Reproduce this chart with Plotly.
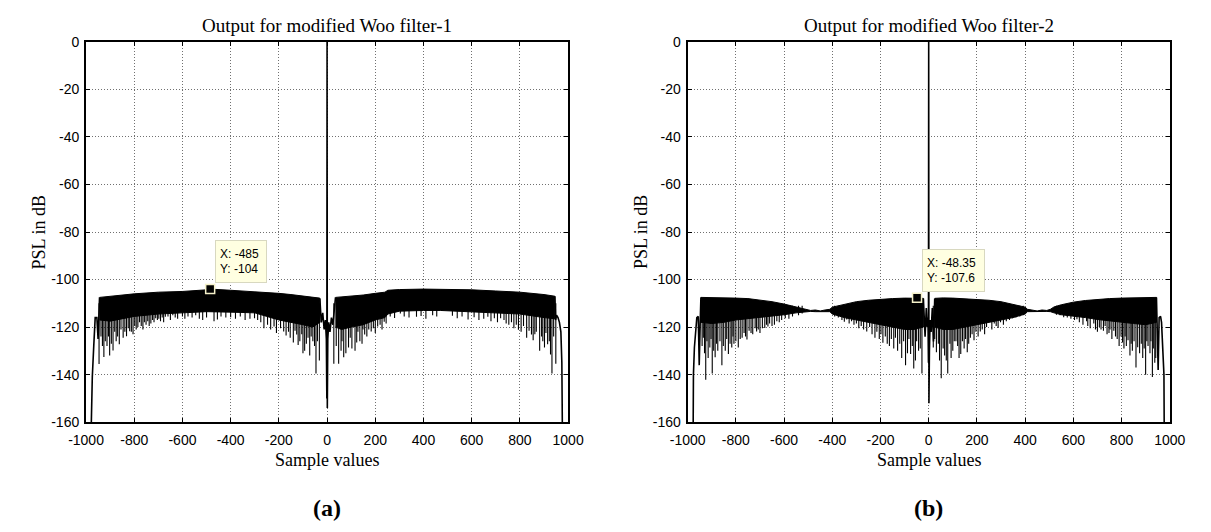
import plotly.graph_objects as go

# ---------------- data: panel (a) modified Woo filter-1 ----------------
A_BAND_L_X = [-944, -900, -850, -800, -700, -600, -500, -485, -400, -300, -250, -200, -150, -100, -60, -30]
A_BAND_L_HI = [-107.5, -107.0, -106.5, -106.0, -105.3, -105.0, -104.3, -104.0, -104.5, -105.0, -105.3, -105.8, -106.3, -106.8, -107.3, -107.8]
A_BAND_L_LO = [-117.0, -117.5, -116.5, -115.5, -114.5, -114.0, -113.5, -113.5, -113.7, -114.0, -115.5, -117.0, -118.0, -119.0, -120.0, -118.0]

A_BAND_R_X = [35, 60, 100, 150, 200, 240, 252, 300, 400, 470, 500, 600, 700, 800, 900, 945]
A_BAND_R_HI = [-107.5, -107.3, -107.0, -106.5, -105.8, -105.3, -104.5, -104.2, -104.0, -104.0, -104.0, -104.3, -104.8, -105.3, -106.3, -107.0]
A_BAND_R_LO = [-120.0, -121.0, -120.0, -119.0, -117.0, -116.0, -114.5, -113.3, -113.0, -113.0, -113.2, -113.5, -114.0, -114.5, -116.0, -116.5]

# (sample, dB) minima of the dense sidelobe spikes
A_SPIKES = [
    (-946, -135.5), (-938, -124), (-932, -128), (-926, -132.6), (-920, -126), (-913, -128), (-907, -124),
    (-902, -132), (-895, -127), (-888, -129.8), (-881, -122), (-875, -126), (-869, -124), (-862, -127.2),
    (-855, -121), (-846, -124.5), (-839, -122), (-832, -123.8), (-825, -120.5), (-819, -121.7), (-812, -122),
    (-805, -123), (-798, -119.5), (-792, -121), (-785, -120), (-778, -118), (-771, -119.5), (-764, -121),
    (-758, -118), (-751, -119), (-744, -117.5), (-738, -119.5), (-731, -118.5), (-724, -117), (-718, -118),
    (-711, -116.3), (-704, -117), (-698, -116.5), (-691, -117.5), (-684, -116), (-678, -118), (-671, -115.6),
    (-660, -115.5), (-650, -117), (-640, -115), (-630, -116), (-620, -116.5), (-600, -115.5), (-590, -116.5),
    (-577, -115.5), (-560, -116), (-545, -115), (-530, -116.5), (-516, -117), (-500, -116), (-469, -117.5),
    (-455, -116.8), (-440, -115.5), (-420, -116), (-400, -115.8), (-380, -116.5), (-360, -115.5),
    (-340, -117), (-320, -116.5), (-301, -116.3), (-288, -117), (-275, -118), (-262, -120.5), (-247, -119),
    (-234, -121), (-220, -119.7), (-210, -122.5), (-193, -120.5), (-180, -121.8), (-170, -123.5),
    (-160, -122), (-153, -124.5), (-140, -126.5), (-133, -121.5), (-126, -123.1), (-120, -127.5),
    (-113, -125.9), (-105, -123), (-100, -131), (-93, -129.9), (-86, -127), (-79, -124.5), (-72, -132),
    (-66, -124), (-59, -125.9), (-52, -128), (-46, -139.5), (-40, -126), (-32, -134),
    (28, -135.4), (38, -128), (48, -135.4), (58, -130), (62, -126), (69, -132.7), (78, -131), (89, -128.6),
    (96, -124.5), (103, -129), (116, -130), (123, -126.5), (128, -122), (136, -125.9), (145, -127),
    (149, -121), (156, -123.1), (165, -124), (173, -121), (183, -121.8), (192, -120.5), (200, -122.5),
    (210, -119.7), (220, -119), (228, -121), (237, -117.7), (245, -118.5), (262, -115.5), (280, -116.2),
    (304, -114.3), (320, -115.5), (340, -116), (371, -115.6), (390, -115.3), (410, -116.5), (438, -115),
    (455, -115.5), (520, -115.2), (540, -116.3), (560, -115.5), (585, -116.8), (610, -115.8), (630, -117),
    (650, -116.5), (667, -115.6), (680, -117.5), (694, -116.3), (707, -118), (720, -116.3), (734, -117),
    (743, -118.5), (754, -119), (765, -118), (775, -120.5), (785, -119), (794, -121.1), (805, -122),
    (815, -119.5), (828, -124.5), (838, -121.5), (848, -123.1), (855, -125.5), (862, -123), (868, -122),
    (882, -130), (890, -124), (895, -126), (902, -128.6), (908, -122.5), (915, -127.2), (922, -126),
    (927, -131.5), (933, -139.5), (940, -124), (949, -135.4),
]

A_EDGE_L_X = [-978, -977, -974, -968, -962, -955, -950, -944]
A_EDGE_L_Y = [-160, -150, -141, -128, -116, -116, -125, -107.5]
A_CENTER_X = [-30, -24, -18, -12, -7, -3, -1, 0, 1, 3, 7, 12, 18, 24, 30, 35]
A_CENTER_Y = [-108, -118, -114, -121, -117, -125, -150, 0, -154, -125, -118, -122, -116, -119, -112, -107.5]
A_EDGE_R_X = [945, 948, 952, 958, 964, 970, 974, 976]
A_EDGE_R_Y = [-107, -117, -115, -116, -118, -122, -135, -160]
A_TIP = [-485, -104]
A_TIP_TEXT = "X: -485<br>Y: -104"

# ---------------- data: panel (b) modified Woo filter-2 ----------------
B_BAND_L_X = [-945, -900, -850, -800, -750, -700, -650, -600, -550, -505, -490, -470, -450, -430, -410, -400,
              -350, -300, -250, -200, -150, -100, -60, -22]
B_BAND_L_HI = [-107.5, -107.5, -107.6, -107.8, -108.0, -108.6, -109.3, -110.3, -111.5, -112.5, -113.0, -112.8,
               -113.2, -112.8, -112.5, -111.6, -110.3, -109.3, -108.7, -108.2, -108.0, -107.8, -107.7, -107.9]
B_BAND_L_LO = [-118.0, -118.5, -118.0, -117.0, -116.5, -115.8, -115.3, -114.8, -114.0, -113.5, -113.4, -113.5,
               -113.6, -113.5, -113.5, -114.5, -116.0, -117.0, -118.0, -119.0, -120.0, -121.0, -121.0, -120.0]

B_BAND_R_X = [25, 60, 100, 150, 200, 250, 300, 350, 400, 410, 430, 450, 470, 490, 505, 520, 550, 600, 650, 700,
              750, 800, 850, 900, 945]
B_BAND_R_HI = [-107.9, -107.7, -107.8, -108.0, -108.2, -108.7, -109.3, -110.3, -111.6, -112.5, -112.8, -113.2,
               -112.8, -113.0, -112.5, -111.5, -110.6, -109.5, -108.8, -108.3, -108.0, -107.8, -107.6, -107.5, -107.5]
B_BAND_R_LO = [-120.0, -121.0, -121.0, -120.0, -119.0, -118.0, -117.0, -116.0, -114.5, -113.5, -113.5, -113.6,
               -113.5, -113.4, -113.5, -114.0, -114.8, -115.5, -116.0, -116.8, -117.2, -118.0, -118.5, -119.0, -118.0]

B_SPIKES = [
    (-940, -128), (-935, -124.5), (-930, -131), (-925, -142.2), (-920, -126), (-915, -133), (-908, -128.6),
    (-903, -125), (-898, -139.5), (-892, -130), (-886, -132.7), (-880, -127), (-875, -130), (-866, -126),
    (-858, -136.1), (-852, -128), (-844, -130), (-838, -125), (-831, -131.3), (-824, -127), (-817, -128.6),
    (-812, -124), (-808, -127), (-800, -126), (-790, -128.6), (-782, -125), (-774, -124.5), (-766, -122.5),
    (-760, -124), (-754, -125.2), (-745, -121.5), (-737, -122.5), (-730, -123), (-720, -120.5),
    (-714, -121.8), (-707, -121), (-700, -122.5), (-690, -120.5), (-680, -120.4), (-673, -119),
    (-667, -119.7), (-660, -118.5), (-650, -119.5), (-640, -119), (-630, -117.5), (-620, -118),
    (-610, -117), (-595, -116.3), (-580, -116.5), (-565, -115.5), (-540, -115), (-525, -114.3),
    (-390, -115.5), (-375, -116), (-360, -117), (-350, -117.7), (-340, -116.8), (-330, -118.5),
    (-320, -117.5), (-310, -119), (-300, -118.5), (-290, -120.5), (-280, -119.5), (-270, -121),
    (-257, -121.8), (-245, -120), (-235, -123), (-223, -124.5), (-215, -122), (-205, -125), (-198, -123),
    (-190, -126.6), (-180, -124), (-172, -127), (-163, -128), (-155, -125), (-145, -129), (-138, -124.5),
    (-129, -130), (-120, -127), (-112, -133), (-104, -126), (-96, -136), (-88, -131), (-82, -125),
    (-75, -131.3), (-68, -128), (-62, -137.4), (-55, -134), (-50, -126), (-42, -130), (-35, -129),
    (-28, -139.5),
    (19, -128.6), (25, -125), (32, -130.6), (40, -127), (45, -134), (52, -141.5), (60, -129), (66, -132),
    (73, -134), (79, -139.5), (88, -127), (93, -133), (100, -130), (106, -126), (113, -126), (120, -128),
    (126, -133), (133, -131.3), (140, -126), (147, -129), (153, -125), (160, -130.6), (166, -127),
    (173, -124.5), (180, -123), (188, -125.5), (196, -122), (205, -124), (214, -121.8), (222, -121),
    (232, -123), (240, -120), (254, -117.7), (262, -121), (272, -118.5), (280, -119.5), (288, -120.4),
    (298, -118), (310, -119), (322, -117.5), (335, -117), (348, -116.3), (362, -116), (378, -115.5),
    (392, -115), (530, -114.8), (545, -115), (560, -115.8), (575, -116), (590, -116.5), (605, -117),
    (615, -116.7), (625, -118), (640, -119), (655, -117.5), (660, -119.5), (670, -120.5), (685, -118.5),
    (692, -121), (700, -122), (708, -120), (715, -121), (725, -121.5), (732, -119.5), (740, -123),
    (748, -122.5), (752, -121), (760, -125), (768, -121.5), (775, -124), (782, -125), (790, -128),
    (798, -124), (804, -126.5), (810, -129), (815, -124), (820, -128), (827, -125.5), (835, -132),
    (840, -127), (845, -130), (852, -126), (860, -137), (867, -128.5), (875, -131), (882, -127),
    (888, -133), (894, -129), (900, -140), (905, -126), (910, -128), (918, -131), (922, -126),
    (928, -141), (932, -129), (938, -135), (942, -133),
]

B_EDGE_L_X = [-977, -976, -972, -966, -962, -956, -952, -948, -945]
B_EDGE_L_Y = [-160, -140, -128.6, -118, -116, -115.5, -136, -118, -107.5]
B_CENTER_X = [-22, -15, -10, -6, -3, -1, 0, 1, 3, 6, 10, 15, 20, 25]
B_CENTER_Y = [-108, -124, -112, -120, -116, -135, 0, -152, -130, -117, -122, -112, -126, -108]
B_EDGE_R_X = [945, 948, 952, 956, 962, 966, 972, 976, 977]
B_EDGE_R_Y = [-107.5, -120, -138, -116, -115.5, -118, -128.6, -140, -160]
B_TIP = [-48.35, -107.6]
B_TIP_TEXT = "X: -48.35<br>Y: -107.6"

# ---------------- labels ----------------
X_TICKS = [-1000, -800, -600, -400, -200, 0, 200, 400, 600, 800, 1000]
X_TICKTEXT = ["-1000", "-800", "-600", "-400", "-200", "0", "200", "400", "600", "800", "1000"]
Y_TICKS = [0, -20, -40, -60, -80, -100, -120, -140, -160]
Y_TICKTEXT = ["0", "-20", "-40", "-60", "-80", "-100", "-120", "-140", "-160"]
TITLES = ["Output for modified Woo filter-1", "Output for modified Woo filter-2"]
PANEL_LABELS = ["(a)", "(b)"]
X_LABEL = "Sample values"
Y_LABEL = "PSL in dB"

W, H = 1211, 532
SERIF = "Liberation Serif, Times New Roman, serif"
SANS = "Liberation Sans, Arial, sans-serif"

fig = go.Figure()

panels = [
    dict(xa="x", ya="y", bands=[(A_BAND_L_X, A_BAND_L_HI, A_BAND_L_LO), (A_BAND_R_X, A_BAND_R_HI, A_BAND_R_LO)],
         spikes=A_SPIKES, top=-110,
         lines=[(A_EDGE_L_X, A_EDGE_L_Y), (A_CENTER_X, A_CENTER_Y), (A_EDGE_R_X, A_EDGE_R_Y)],
         tip=A_TIP, tiptext=A_TIP_TEXT, tipw=42),
    dict(xa="x2", ya="y2", bands=[(B_BAND_L_X, B_BAND_L_HI, B_BAND_L_LO), (B_BAND_R_X, B_BAND_R_HI, B_BAND_R_LO)],
         spikes=B_SPIKES, top=-111,
         lines=[(B_EDGE_L_X, B_EDGE_L_Y), (B_CENTER_X, B_CENTER_Y), (B_EDGE_R_X, B_EDGE_R_Y)],
         tip=B_TIP, tiptext=B_TIP_TEXT, tipw=53),
]

for p in panels:
    for bx, hi, lo in p["bands"]:
        fig.add_trace(go.Scatter(x=bx + bx[::-1], y=hi + lo[::-1], fill="toself", fillcolor="black",
                                 mode="lines", line=dict(color="black", width=1),
                                 xaxis=p["xa"], yaxis=p["ya"], showlegend=False, hoverinfo="skip"))
    spx, spy = [], []
    for sx, sy in p["spikes"]:
        spx += [sx, sx, None]
        spy += [p["top"], sy, None]
    fig.add_trace(go.Scatter(x=spx, y=spy, mode="lines", line=dict(color="black", width=1.1),
                             xaxis=p["xa"], yaxis=p["ya"], showlegend=False, hoverinfo="skip"))
    for lx, ly in p["lines"]:
        fig.add_trace(go.Scatter(x=lx, y=ly, mode="lines", line=dict(color="black", width=1.6),
                                 xaxis=p["xa"], yaxis=p["ya"], showlegend=False, hoverinfo="skip"))
    fig.add_trace(go.Scatter(x=[p["tip"][0]], y=[p["tip"][1]], mode="markers",
                             marker=dict(symbol="square", size=9, color="black",
                                         line=dict(color="#F4F0C8", width=1.5)),
                             xaxis=p["xa"], yaxis=p["ya"], showlegend=False, hoverinfo="skip"))
    fig.add_annotation(x=p["tip"][0], y=p["tip"][1], xref=p["xa"], yref=p["ya"], text=p["tiptext"],
                       showarrow=False, xanchor="left", yanchor="bottom", xshift=5, yshift=6,
                       align="left", bgcolor="#FFFFE1", bordercolor="#D8D8C0", borderwidth=1, borderpad=4,
                       width=p["tipw"], height=33, font=dict(family=SANS, size=12, color="black"))

px_l = [70, 689]
px_r = [566, 1185]
y_top, y_bot = 35, 427

axis_common = dict(showline=True, linecolor="black", linewidth=2, mirror="allticks",
                   ticks="inside", ticklen=4, tickwidth=1, tickcolor="black",
                   showgrid=True, gridcolor="#707070", gridwidth=1, griddash="1px,2px",
                   zeroline=False, tickfont=dict(family=SANS, size=14, color="black"))

for i, (xa, ya) in enumerate([("xaxis", "yaxis"), ("xaxis2", "yaxis2")]):
    xdom = [px_l[i] / W, px_r[i] / W]
    fig.layout[xa] = dict(domain=xdom, range=[-1000, 1000], tickvals=X_TICKS, ticktext=X_TICKTEXT,
                          anchor="y" if i == 0 else "y2", ticklabelstandoff=4, **axis_common)
    fig.layout[ya] = dict(domain=[1 - y_bot / H, 1 - y_top / H], range=[-160, 0], tickvals=Y_TICKS,
                          ticktext=Y_TICKTEXT, anchor="x" if i == 0 else "x2", ticklabelstandoff=2,
                          **axis_common)
    cx = (px_l[i] + px_r[i]) / 2 / W
    fig.add_annotation(x=cx, y=1 - 18 / H, xref="paper", yref="paper", text=TITLES[i], showarrow=False,
                       xanchor="center", yanchor="middle", font=dict(family=SERIF, size=19, color="black"))
    fig.add_annotation(x=cx, y=1 - 466 / H, xref="paper", yref="paper", text=X_LABEL, showarrow=False,
                       xanchor="center", yanchor="middle", font=dict(family=SERIF, size=18, color="black"))
    fig.add_annotation(x=(px_l[i] - 48) / W, y=1 - (y_top + y_bot) / 2 / H, xref="paper", yref="paper",
                       text=Y_LABEL, textangle=-90, showarrow=False, xanchor="center", yanchor="middle",
                       font=dict(family=SERIF, size=18, color="black"))
    fig.add_annotation(x=cx, y=1 - 515 / H, xref="paper", yref="paper", text="<b>" + PANEL_LABELS[i] + "</b>",
                       showarrow=False, xanchor="center", yanchor="middle",
                       font=dict(family=SERIF, size=24, color="black"))

fig.update_layout(width=W, height=H, margin=dict(l=0, r=0, t=0, b=0),
                  paper_bgcolor="white", plot_bgcolor="white", showlegend=False)

fig.write_html("out.html")
